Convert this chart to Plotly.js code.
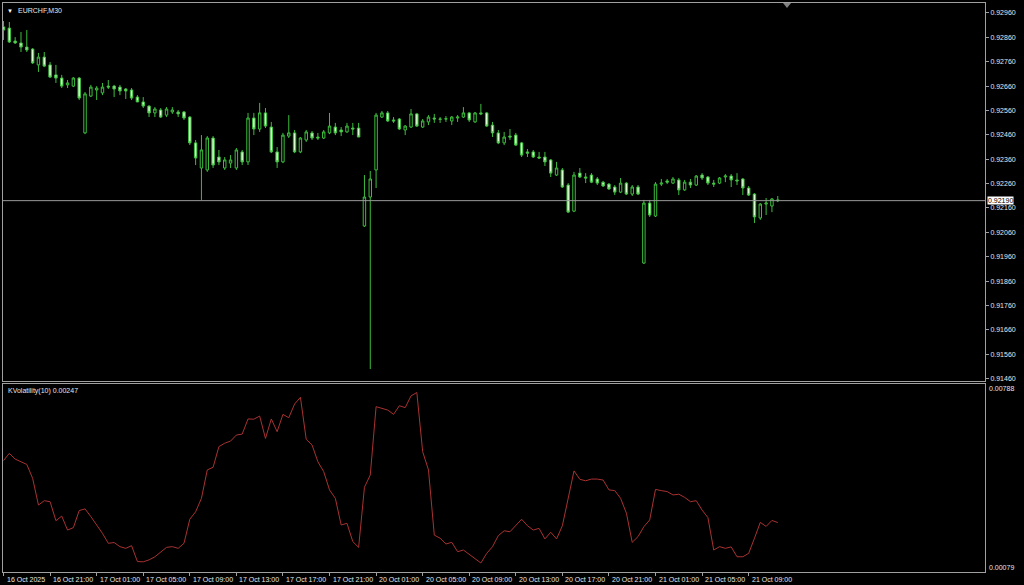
<!DOCTYPE html>
<html><head><meta charset="utf-8">
<script src="https://cdn.plot.ly/plotly-3.0.1.min.js"></script>
<style>html,body{margin:0;padding:0;background:#000;}#chart{width:1024px;height:585px;}</style>
</head><body><div id="chart"></div>
<script>
const symbolName = 'EURCHF,M30';
const indicatorName = 'KVolatility(10)';

const openP = [0.92903,0.92898,0.92845,0.92837,0.92820,0.92812,0.92747,0.92779,0.92747,0.92706,
0.92693,0.92665,0.92660,0.92693,0.92468,0.92619,0.92644,0.92632,0.92660,0.92660,
0.92656,0.92648,0.92644,0.92615,0.92595,0.92578,0.92550,0.92562,0.92541,0.92554,
0.92554,0.92554,0.92533,0.92427,0.92324,0.92316,0.92447,0.92369,0.92324,0.92344,
0.92324,0.92390,0.92349,0.92529,0.92484,0.92550,0.92492,0.92390,0.92349,0.92455,
0.92468,0.92390,0.92439,0.92468,0.92451,0.92447,0.92468,0.92492,0.92480,0.92472,
0.92488,0.92488,0.92086,0.92205,0.92316,0.92533,0.92550,0.92521,0.92525,0.92480,
0.92492,0.92546,0.92492,0.92513,0.92529,0.92525,0.92525,0.92517,0.92529,0.92533,
0.92550,0.92513,0.92550,0.92550,0.92500,0.92468,0.92427,0.92455,0.92459,0.92427,
0.92390,0.92390,0.92369,0.92369,0.92357,0.92295,0.92316,0.92254,0.92147,0.92303,
0.92287,0.92295,0.92279,0.92266,0.92258,0.92246,0.92225,0.92262,0.92217,0.92246,
0.91934,0.92180,0.92127,0.92258,0.92271,0.92262,0.92275,0.92234,0.92266,0.92254,
0.92295,0.92287,0.92262,0.92262,0.92287,0.92291,0.92275,0.92279,0.92242,0.92217,
0.92119,0.92176,0.92168,0.92193];

const highP = [0.92927,0.92923,0.92861,0.92882,0.92890,0.92816,0.92796,0.92800,0.92759,0.92747,
0.92706,0.92685,0.92697,0.92697,0.92636,0.92665,0.92660,0.92673,0.92685,0.92665,
0.92665,0.92652,0.92652,0.92623,0.92615,0.92582,0.92574,0.92570,0.92574,0.92574,
0.92562,0.92558,0.92537,0.92439,0.92459,0.92455,0.92455,0.92398,0.92369,0.92377,
0.92406,0.92398,0.92550,0.92550,0.92591,0.92570,0.92513,0.92410,0.92468,0.92541,
0.92480,0.92451,0.92480,0.92476,0.92468,0.92480,0.92550,0.92509,0.92492,0.92509,
0.92509,0.92509,0.92295,0.92312,0.92550,0.92558,0.92558,0.92533,0.92529,0.92500,
0.92566,0.92550,0.92525,0.92541,0.92546,0.92533,0.92537,0.92537,0.92541,0.92574,
0.92554,0.92554,0.92587,0.92554,0.92513,0.92480,0.92472,0.92484,0.92468,0.92431,
0.92402,0.92398,0.92390,0.92390,0.92361,0.92349,0.92324,0.92262,0.92308,0.92324,
0.92303,0.92303,0.92287,0.92271,0.92262,0.92254,0.92283,0.92266,0.92254,0.92254,
0.92193,0.92193,0.92266,0.92279,0.92279,0.92287,0.92283,0.92275,0.92279,0.92295,
0.92303,0.92291,0.92275,0.92287,0.92299,0.92299,0.92303,0.92283,0.92250,0.92221,
0.92180,0.92201,0.92201,0.92209];

const lowP = [0.92849,0.92837,0.92833,0.92800,0.92800,0.92751,0.92718,0.92738,0.92693,0.92673,
0.92652,0.92652,0.92656,0.92603,0.92463,0.92615,0.92603,0.92623,0.92648,0.92615,
0.92623,0.92607,0.92603,0.92595,0.92570,0.92533,0.92533,0.92529,0.92533,0.92546,
0.92533,0.92521,0.92418,0.92336,0.92193,0.92308,0.92324,0.92336,0.92316,0.92324,
0.92316,0.92336,0.92336,0.92459,0.92472,0.92488,0.92385,0.92324,0.92344,0.92447,
0.92385,0.92385,0.92431,0.92439,0.92439,0.92443,0.92463,0.92459,0.92455,0.92468,
0.92459,0.92451,0.92082,0.91499,0.92242,0.92529,0.92513,0.92509,0.92480,0.92459,
0.92488,0.92492,0.92488,0.92500,0.92509,0.92509,0.92513,0.92500,0.92513,0.92529,
0.92513,0.92509,0.92541,0.92492,0.92451,0.92422,0.92418,0.92439,0.92414,0.92369,
0.92369,0.92365,0.92361,0.92332,0.92287,0.92291,0.92242,0.92139,0.92143,0.92283,
0.92262,0.92262,0.92254,0.92246,0.92234,0.92213,0.92221,0.92213,0.92209,0.92213,
0.91930,0.92123,0.92123,0.92250,0.92258,0.92258,0.92213,0.92230,0.92242,0.92250,
0.92275,0.92254,0.92246,0.92258,0.92266,0.92246,0.92254,0.92213,0.92209,0.92098,
0.92111,0.92131,0.92143,0.92184];

const closeP = [0.92890,0.92841,0.92837,0.92820,0.92808,0.92755,0.92779,0.92742,0.92697,0.92693,
0.92660,0.92673,0.92693,0.92611,0.92628,0.92656,0.92652,0.92656,0.92656,0.92648,
0.92640,0.92640,0.92611,0.92595,0.92578,0.92550,0.92566,0.92533,0.92566,0.92562,
0.92546,0.92529,0.92427,0.92365,0.92398,0.92447,0.92336,0.92349,0.92357,0.92357,
0.92398,0.92349,0.92529,0.92484,0.92550,0.92496,0.92390,0.92349,0.92459,0.92468,
0.92390,0.92447,0.92472,0.92447,0.92447,0.92472,0.92496,0.92468,0.92472,0.92496,
0.92484,0.92451,0.92205,0.92279,0.92541,0.92550,0.92517,0.92517,0.92484,0.92496,
0.92546,0.92496,0.92517,0.92533,0.92525,0.92524,0.92526,0.92533,0.92533,0.92550,
0.92521,0.92550,0.92546,0.92496,0.92468,0.92427,0.92451,0.92451,0.92418,0.92377,
0.92385,0.92369,0.92365,0.92349,0.92303,0.92324,0.92246,0.92143,0.92295,0.92287,
0.92283,0.92266,0.92262,0.92250,0.92238,0.92225,0.92262,0.92217,0.92246,0.92217,
0.92180,0.92131,0.92258,0.92262,0.92266,0.92279,0.92234,0.92266,0.92254,0.92291,
0.92283,0.92262,0.92258,0.92283,0.92291,0.92275,0.92271,0.92242,0.92213,0.92123,
0.92176,0.92180,0.92197,0.92190];

const kvol = [0.00505,0.00535,0.00511,0.00500,0.00489,0.00431,0.00320,0.00338,0.00334,0.00255,
0.00274,0.00216,0.00226,0.00297,0.00304,0.00272,0.00237,0.00202,0.00161,0.00164,
0.00147,0.00140,0.00151,0.00085,0.00084,0.00092,0.00105,0.00126,0.00144,0.00147,
0.00140,0.00161,0.00261,0.00292,0.00348,0.00466,0.00477,0.00563,0.00577,0.00586,
0.00611,0.00615,0.00678,0.00677,0.00690,0.00597,0.00678,0.00625,0.00697,0.00683,
0.00740,0.00768,0.00593,0.00570,0.00500,0.00459,0.00383,0.00348,0.00237,0.00244,
0.00168,0.00144,0.00394,0.00445,0.00729,0.00722,0.00715,0.00697,0.00733,0.00725,
0.00774,0.00788,0.00542,0.00466,0.00195,0.00182,0.00158,0.00165,0.00126,0.00133,
0.00116,0.00098,0.00079,0.00119,0.00147,0.00193,0.00213,0.00209,0.00237,0.00261,
0.00234,0.00216,0.00223,0.00179,0.00207,0.00179,0.00234,0.00348,0.00462,0.00427,
0.00421,0.00428,0.00428,0.00424,0.00383,0.00380,0.00348,0.00286,0.00165,0.00189,
0.00230,0.00258,0.00385,0.00380,0.00376,0.00362,0.00365,0.00352,0.00334,0.00338,
0.00299,0.00268,0.00133,0.00147,0.00140,0.00146,0.00105,0.00105,0.00119,0.00182,
0.00248,0.00231,0.00256,0.00247];

const timeTickIdx = [0,8,16,24,32,40,48,56,64,72,80,88,96,104,112,120,128];
const timeTickText = ['16 Oct 2025','16 Oct 21:00','17 Oct 01:00','17 Oct 05:00','17 Oct 09:00',
'17 Oct 13:00','17 Oct 17:00','17 Oct 21:00','20 Oct 01:00','20 Oct 05:00','20 Oct 09:00',
'20 Oct 13:00','20 Oct 17:00','20 Oct 21:00','21 Oct 01:00','21 Oct 05:00','21 Oct 09:00'];
const priceTicks = [0.92960,0.92860,0.92760,0.92660,0.92560,0.92460,0.92360,0.92260,
0.92160,0.92060,0.91960,0.91860,0.91760,0.91660,0.91560,0.91460];

const xIdx = openP.map((_, i) => i);
const lastClose = closeP[closeP.length - 1];
const lastVol = kvol[kvol.length - 1];
const volMax = Math.max(...kvol), volMin = Math.min(...kvol);

const green = '#3dbd3d';
const frame = '#a0a0a0';
const txt = '#e6e6e6';
const xRange = [-0.09, 168.6];

const traces = [
  {type:'candlestick', x:xIdx, open:openP, high:highP, low:lowP, close:closeP,
   xaxis:'x', yaxis:'y', whiskerwidth:0,
   increasing:{line:{color:green, width:1}, fillcolor:'#000000'},
   decreasing:{line:{color:green, width:1}, fillcolor:'#d9fbd0'},
   hoverinfo:'skip', showlegend:false},
  {type:'scatter', mode:'lines', x:xIdx, y:kvol, xaxis:'x2', yaxis:'y2',
   line:{color:'#a83232', width:1}, hoverinfo:'skip', showlegend:false}
];

const timeLabels = timeTickIdx.map((ix, k) => ({
  xref:'x2', yref:'paper', x:ix, y:0, xanchor:'left', yanchor:'top', xshift:1, yshift:-2,
  text:timeTickText[k], showarrow:false, font:{size:7, color:txt}
}));

const layout = {
  width:1024, height:585,
  paper_bgcolor:'#000000', plot_bgcolor:'#000000',
  margin:{l:3, r:39, t:3, b:13},
  font:{family:'Liberation Sans, Arial, sans-serif', size:7, color:txt},
  showlegend:false, boxgap:0.4,
  xaxis:{domain:[0,1], anchor:'y', range:xRange, showticklabels:false, ticks:'',
    showgrid:false, zeroline:false, showline:true, mirror:true, linecolor:frame, linewidth:1,
    rangeslider:{visible:false}, fixedrange:true},
  yaxis:{domain:[0.33568,1], anchor:'x', side:'right', range:[0.91450,0.93001],
    tickvals:priceTicks, ticktext:priceTicks.map(v => v.toFixed(5)),
    ticks:'outside', ticklen:3, tickcolor:frame, showgrid:false, zeroline:false,
    showline:true, mirror:true, linecolor:frame, linewidth:1, fixedrange:true},
  xaxis2:{domain:[0,1], anchor:'y2', range:xRange, tickvals:timeTickIdx, showticklabels:false,
    ticks:'outside', ticklen:3, tickcolor:frame,
    showgrid:false, zeroline:false, showline:true, mirror:true, linecolor:frame, linewidth:1, fixedrange:true},
  yaxis2:{domain:[0,0.3304], anchor:'x2', side:'right', range:[0.000416,0.008233],
    showticklabels:false, ticks:'', showgrid:false, zeroline:false,
    showline:true, mirror:true, linecolor:frame, linewidth:1, fixedrange:true},
  shapes:[
    {type:'line', xref:'paper', x0:0, x1:1, yref:'y', y0:lastClose, y1:lastClose,
     line:{color:'#9a9a9a', width:1}},
    {type:'path', xref:'paper', yref:'paper', path:'M 0.7943 1 L 0.8025 1 L 0.7984 0.9912 Z',
     fillcolor:'#808080', line:{width:0}}
  ],
  annotations:[
    {xref:'paper', yref:'paper', x:0, y:1, xanchor:'left', yanchor:'top', xshift:2, yshift:-3,
     text:'▼', showarrow:false, font:{size:6, color:'#ffffff'}},
    {xref:'paper', yref:'paper', x:0, y:1, xanchor:'left', yanchor:'top', xshift:13, yshift:-2,
     text:symbolName, showarrow:false, font:{size:7, color:txt}},
    {xref:'paper', yref:'paper', x:0, y:0.3304, xanchor:'left', yanchor:'top', xshift:3, yshift:-1,
     text:indicatorName + ' ' + lastVol.toFixed(5), showarrow:false, font:{size:7, color:txt}},
    {xref:'paper', yref:'y', x:1, y:lastClose, xanchor:'left', yanchor:'middle', xshift:2,
     text:lastClose.toFixed(5), showarrow:false, bgcolor:'#ffffff', borderpad:0,
     font:{size:7, color:'#000000'}},
    {xref:'paper', yref:'y2', x:1, y:volMax, xanchor:'left', yanchor:'middle', xshift:2, yshift:4,
     text:volMax.toFixed(5), showarrow:false, font:{size:7, color:txt}},
    {xref:'paper', yref:'y2', x:1, y:volMin, xanchor:'left', yanchor:'middle', xshift:2, yshift:-4,
     text:volMin.toFixed(5), showarrow:false, font:{size:7, color:txt}}
  ].concat(timeLabels)
};

Plotly.newPlot('chart', traces, layout, {staticPlot:true, displayModeBar:false});
</script>
</body></html>
